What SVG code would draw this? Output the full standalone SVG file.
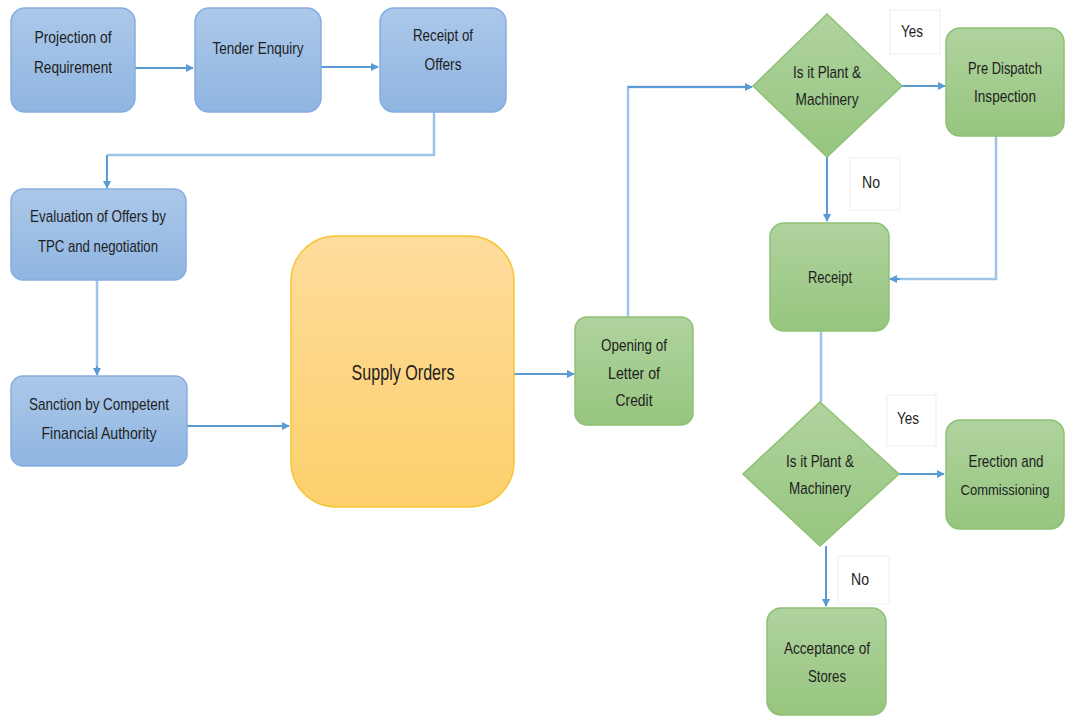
<svg xmlns="http://www.w3.org/2000/svg" width="1065" height="716" viewBox="0 0 1065 716">
<defs>
<linearGradient id="gb" x1="0" y1="0" x2="0" y2="1"><stop offset="0" stop-color="#acc8e9"/><stop offset="1" stop-color="#8fb5e1"/></linearGradient>
<linearGradient id="gg" x1="0" y1="0" x2="0" y2="1"><stop offset="0" stop-color="#afd39e"/><stop offset="1" stop-color="#97c57f"/></linearGradient>
<linearGradient id="gy" x1="0" y1="0" x2="0" y2="1"><stop offset="0" stop-color="#fedc9c"/><stop offset="1" stop-color="#fdd06c"/></linearGradient>
<marker id="ar" markerWidth="8" markerHeight="8" refX="7" refY="4" orient="auto" markerUnits="userSpaceOnUse"><path d="M0,0 L8,4 L0,8 z" fill="#5b9bd5"/></marker>
<style>
.b{fill:url(#gb);stroke:#86ade0;stroke-width:1.5}
.g{fill:url(#gg);stroke:#8fc174;stroke-width:1.5}
.y{fill:url(#gy);stroke:#f7c437;stroke-width:1.5}
.lb{fill:#fff;stroke:#eeeeee;stroke-width:1}
text{font-family:"Liberation Sans",Arial,sans-serif;font-size:17px;fill:#1e1e1e;text-anchor:middle;dominant-baseline:middle}
.big{font-size:22px}
.sm{font-size:15px}
.c{fill:none;stroke:#5b9bd5;stroke-width:2}
.cl{fill:none;stroke:#9dc3e6;stroke-width:2.5}
</style>
</defs>
<g id="connectors">
<path class="c" d="M135,68 H193" marker-end="url(#ar)"/>
<path class="c" d="M321,67 H378" marker-end="url(#ar)"/>
<path class="cl" d="M434,112 V155 H107"/>
<path class="c" d="M107,155 V188" marker-end="url(#ar)"/>
<path class="cl" d="M97,280 V368"/>
<path class="c" d="M97,366 V375" marker-end="url(#ar)"/>
<path class="c" d="M187,426 H289" marker-end="url(#ar)"/>
<path class="c" d="M514,374 H574" marker-end="url(#ar)"/>
<path class="cl" d="M628,317 V87 H745"/>
<path class="c" d="M628,87 H752" marker-end="url(#ar)"/>
<path class="c" d="M902,86 H945" marker-end="url(#ar)"/>
<path class="c" d="M827,157 V221" marker-end="url(#ar)"/>
<path class="cl" d="M996,136 V279 H896"/>
<path class="c" d="M900,279 H890" marker-end="url(#ar)"/>
<path class="cl" d="M821,331 V402"/>
<path class="c" d="M899,474 H944" marker-end="url(#ar)"/>
<path class="c" d="M826,546 V606" marker-end="url(#ar)"/>
</g>
<g id="projection"><rect class="b" x="11" y="8" width="124" height="104" rx="14"/><text x="73" y="39" textLength="77" lengthAdjust="spacingAndGlyphs">Projection of</text><text x="73" y="69" textLength="78" lengthAdjust="spacingAndGlyphs">Requirement</text></g>
<g id="tender"><rect class="b" x="195" y="8" width="126" height="104" rx="14"/><text x="258" y="50" textLength="91" lengthAdjust="spacingAndGlyphs">Tender Enquiry</text></g>
<g id="receiptOffers"><rect class="b" x="380" y="8" width="126" height="104" rx="14"/><text x="443" y="37" textLength="60" lengthAdjust="spacingAndGlyphs">Receipt of</text><text x="443" y="66" textLength="37" lengthAdjust="spacingAndGlyphs">Offers</text></g>
<g id="evaluation"><rect class="b" x="11" y="189" width="175" height="91" rx="12"/><text x="98" y="218" textLength="136" lengthAdjust="spacingAndGlyphs">Evaluation of Offers by</text><text x="98" y="248" textLength="120" lengthAdjust="spacingAndGlyphs">TPC and negotiation</text></g>
<g id="sanction"><rect class="b" x="11" y="376" width="176" height="90" rx="12"/><text x="99" y="406" textLength="140" lengthAdjust="spacingAndGlyphs">Sanction by Competent</text><text x="99" y="435" textLength="115" lengthAdjust="spacingAndGlyphs">Financial Authority</text></g>
<g id="supply"><rect class="y" x="291" y="236" width="223" height="271" rx="45"/><text class="big" x="403" y="374" textLength="103" lengthAdjust="spacingAndGlyphs">Supply Orders</text></g>
<g id="opening"><rect class="g" x="575" y="317" width="118" height="108" rx="12"/><text x="634" y="347" textLength="66" lengthAdjust="spacingAndGlyphs">Opening of</text><text x="634" y="375" textLength="52" lengthAdjust="spacingAndGlyphs">Letter of</text><text x="634" y="402" textLength="37" lengthAdjust="spacingAndGlyphs">Credit</text></g>
<g id="decision1"><polygon class="g" points="827,14 902,86 827,157 753,86"/><text x="827" y="74" textLength="68" lengthAdjust="spacingAndGlyphs">Is it Plant &amp;</text><text x="827" y="101" textLength="63" lengthAdjust="spacingAndGlyphs">Machinery</text></g>
<g id="yes1"><rect class="lb" x="890" y="10" width="50" height="44"/><text x="912" y="33" textLength="22" lengthAdjust="spacingAndGlyphs">Yes</text></g>
<g id="predispatch"><rect class="g" x="946" y="28" width="118" height="108" rx="14"/><text x="1005" y="70" textLength="74" lengthAdjust="spacingAndGlyphs">Pre Dispatch</text><text x="1005" y="98" textLength="62" lengthAdjust="spacingAndGlyphs">Inspection</text></g>
<g id="no1"><rect class="lb" x="850" y="158" width="50" height="52"/><text x="871" y="184" textLength="18" lengthAdjust="spacingAndGlyphs">No</text></g>
<g id="receipt"><rect class="g" x="770" y="223" width="119" height="108" rx="14"/><text x="830" y="279" textLength="44" lengthAdjust="spacingAndGlyphs">Receipt</text></g>
<g id="decision2"><polygon class="g" points="820,402 899,474 820,546 743,474"/><text x="820" y="463" textLength="68" lengthAdjust="spacingAndGlyphs">Is it Plant &amp;</text><text x="820" y="490" textLength="62" lengthAdjust="spacingAndGlyphs">Machinery</text></g>
<g id="yes2"><rect class="lb" x="887" y="395" width="49" height="51"/><text x="908" y="420" textLength="22" lengthAdjust="spacingAndGlyphs">Yes</text></g>
<g id="erection"><rect class="g" x="946" y="420" width="118" height="109" rx="14"/><text x="1006" y="463" textLength="75" lengthAdjust="spacingAndGlyphs">Erection and</text><text class="sm" x="1005" y="491" textLength="89" lengthAdjust="spacingAndGlyphs">Commissioning</text></g>
<g id="no2"><rect class="lb" x="838" y="556" width="51" height="48"/><text x="860" y="581" textLength="18" lengthAdjust="spacingAndGlyphs">No</text></g>
<g id="acceptance"><rect class="g" x="767" y="608" width="119" height="107" rx="14"/><text x="827" y="650" textLength="86" lengthAdjust="spacingAndGlyphs">Acceptance of</text><text x="827" y="678" textLength="38" lengthAdjust="spacingAndGlyphs">Stores</text></g>
</svg>
